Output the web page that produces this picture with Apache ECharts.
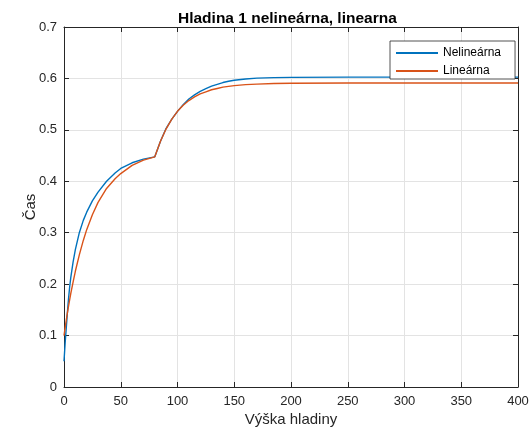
<!DOCTYPE html>
<html>
<head>
<meta charset="utf-8">
<script src="https://cdn.jsdelivr.net/npm/echarts@6/dist/echarts.min.js"></script>
<style>
  html, body { margin: 0; padding: 0; background: #fff; }
  #main { width: 529px; height: 433px; }
</style>
</head>
<body>
<div id="main"></div>
<script>
// x positions (Výška hladiny)
var xs = [0, 1, 2, 3, 4, 5, 6, 8, 10, 13.5, 17, 20, 25, 30, 37.5, 45, 50, 60, 70, 80,
          85, 90, 95, 100, 105, 110, 115, 120, 125, 130, 135, 140, 145, 150, 160, 170, 185, 200,
          250, 300, 350, 400];
// Nelineárna (blue)
var nelinearna = [0.05, 0.085, 0.115, 0.145, 0.172, 0.195, 0.213, 0.243, 0.267, 0.300, 0.324, 0.340,
                  0.362, 0.379, 0.400, 0.416, 0.425, 0.436, 0.443, 0.4475,
                  0.478, 0.503, 0.521, 0.536, 0.549, 0.560, 0.568, 0.575, 0.580, 0.585, 0.5885,
                  0.592, 0.5945, 0.5965, 0.599, 0.6005, 0.6015, 0.602,
                  0.6025, 0.6025, 0.6025, 0.6025];
// Lineárna (orange)
var linearna = [0.100, 0.115, 0.130, 0.144, 0.157, 0.170, 0.182, 0.204, 0.225, 0.257, 0.285, 0.306,
                0.335, 0.359, 0.386, 0.405, 0.415, 0.431, 0.441, 0.4475,
                0.478, 0.502, 0.521, 0.536, 0.548, 0.557, 0.564, 0.570, 0.574, 0.578, 0.5805,
                0.583, 0.5845, 0.586, 0.588, 0.589, 0.590, 0.5905,
                0.591, 0.591, 0.591, 0.591];
var xTicks = [0, 50, 100, 150, 200, 250, 300, 350, 400];
var yTicks = [0, 0.1, 0.2, 0.3, 0.4, 0.5, 0.6, 0.7];

function pairs(x, y) {
  return x.map(function (v, i) { return [v, y[i]]; });
}

var font = 'Liberation Sans, Arial, Helvetica, sans-serif';
var axisCol = '#262626';
// ticks point into the plot (MATLAB style)
var tick = { show: true, inside: true, length: 5, lineStyle: { color: axisCol } };
var boxLine = { show: true, onZero: false, lineStyle: { color: axisCol, width: 1 } };

var myChart = echarts.init(document.getElementById('main'));
myChart.setOption({
  animation: false,
  title: {
    text: 'Hladina 1 nelineárna, linearna',
    left: 173,
    top: 6,
    textStyle: { fontFamily: font, fontSize: 15.5, fontWeight: 'bold', color: '#000' }
  },
  legend: {
    orient: 'vertical',
    left: 390,
    top: 41,
    padding: [6, 14, 2, 5],
    itemGap: 6,
    itemWidth: 42,
    itemHeight: 13,
    backgroundColor: '#fff',
    borderColor: axisCol,
    borderWidth: 0.8,
    borderRadius: 0,
    itemStyle: { opacity: 0 },
    textStyle: { fontFamily: font, fontSize: 12, color: '#000' },
    data: ['Nelineárna', 'Lineárna']
  },
  grid: { left: 64, right: 11, top: 27, bottom: 46, containLabel: false, outerBoundsMode: 'none' },
  xAxis: [{
    type: 'value',
    min: xTicks[0],
    max: xTicks[xTicks.length - 1],
    interval: 50,
    name: 'Výška hladiny',
    nameLocation: 'middle',
    nameGap: 25,
    nameMoveOverlap: false,
    nameTextStyle: { fontFamily: font, fontSize: 15, color: axisCol },
    axisLine: boxLine,
    axisTick: tick,
    axisLabel: { fontFamily: font, fontSize: 13, color: axisCol, margin: 8 },
    splitLine: { show: true, lineStyle: { color: '#e3e3e3', width: 1 } }
  }, {
    type: 'value',
    position: 'top',
    min: xTicks[0],
    max: xTicks[xTicks.length - 1],
    interval: 50,
    axisLine: boxLine,
    axisTick: tick,
    axisLabel: { show: false },
    splitLine: { show: false }
  }],
  yAxis: [{
    type: 'value',
    min: yTicks[0],
    max: yTicks[yTicks.length - 1],
    interval: 0.1,
    name: 'Čas',
    nameLocation: 'middle',
    nameGap: 26,
    nameMoveOverlap: false,
    nameTextStyle: { fontFamily: font, fontSize: 15, color: axisCol },
    axisLine: boxLine,
    axisTick: tick,
    axisLabel: { fontFamily: font, fontSize: 13, color: axisCol, margin: 7 },
    splitLine: { show: true, lineStyle: { color: '#e3e3e3', width: 1 } }
  }, {
    type: 'value',
    position: 'right',
    min: yTicks[0],
    max: yTicks[yTicks.length - 1],
    interval: 0.1,
    axisLine: boxLine,
    axisTick: tick,
    axisLabel: { show: false },
    splitLine: { show: false }
  }],
  series: [{
    name: 'Nelineárna',
    type: 'line',
    symbol: 'none',
    smooth: false,
    color: '#0072BD',
    lineStyle: { width: 1.4, color: '#0072BD' },
    data: pairs(xs, nelinearna)
  }, {
    name: 'Lineárna',
    type: 'line',
    symbol: 'none',
    smooth: false,
    color: '#D95319',
    lineStyle: { width: 1.4, color: '#D95319' },
    data: pairs(xs, linearna)
  }]
});
</script>
</body>
</html>
